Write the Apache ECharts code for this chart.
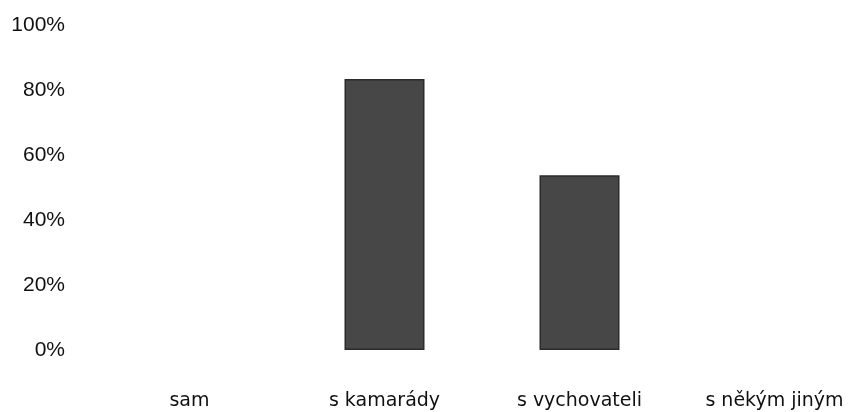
<!DOCTYPE html>
<html>
<head>
<meta charset="utf-8">
<script src="https://cdn.jsdelivr.net/npm/echarts@6/dist/echarts.min.js"></script>
<style>html,body{margin:0;padding:0;background:#fff;overflow:hidden}#c{width:900px;height:412px}</style>
</head>
<body>
<div id="c"></div>
<script>
var categories = ["sam", "s kamarády", "s vychovateli", "s někým jiným"];
var values = [0, 83.4, 53.8, 0];
var yTicks = [0, 20, 40, 60, 80, 100];

var chart = echarts.init(document.getElementById('c'), null, {renderer: 'canvas'});
chart.setOption({
  animation: false,
  backgroundColor: '#ffffff',
  grid: {left: 92, top: 25, width: 780, height: 325, containLabel: false},
  xAxis: {
    type: 'category',
    data: categories,
    axisLine: {show: false},
    axisTick: {show: false},
    axisLabel: {
      margin: 42,
      color: '#111',
      fontFamily: 'DejaVu Sans',
      fontSize: 19
    }
  },
  yAxis: {
    type: 'value',
    min: yTicks[0],
    max: yTicks[yTicks.length - 1],
    interval: 20,
    splitLine: {show: false},
    axisLine: {show: false},
    axisTick: {show: false},
    axisLabel: {
      margin: 27,
      color: '#111',
      fontFamily: 'Liberation Sans, Arial',
      fontSize: 21,
      formatter: function (v) { return v + '%'; }
    }
  },
  series: [{
    type: 'bar',
    data: values.map(function (v) {
      return v === 0 ? {value: v, itemStyle: {borderWidth: 0}} : v;
    }),
    barWidth: 80,
    itemStyle: {color: '#474747', borderColor: '#2b2b2b', borderWidth: 1.5}
  }]
});
</script>
</body>
</html>
